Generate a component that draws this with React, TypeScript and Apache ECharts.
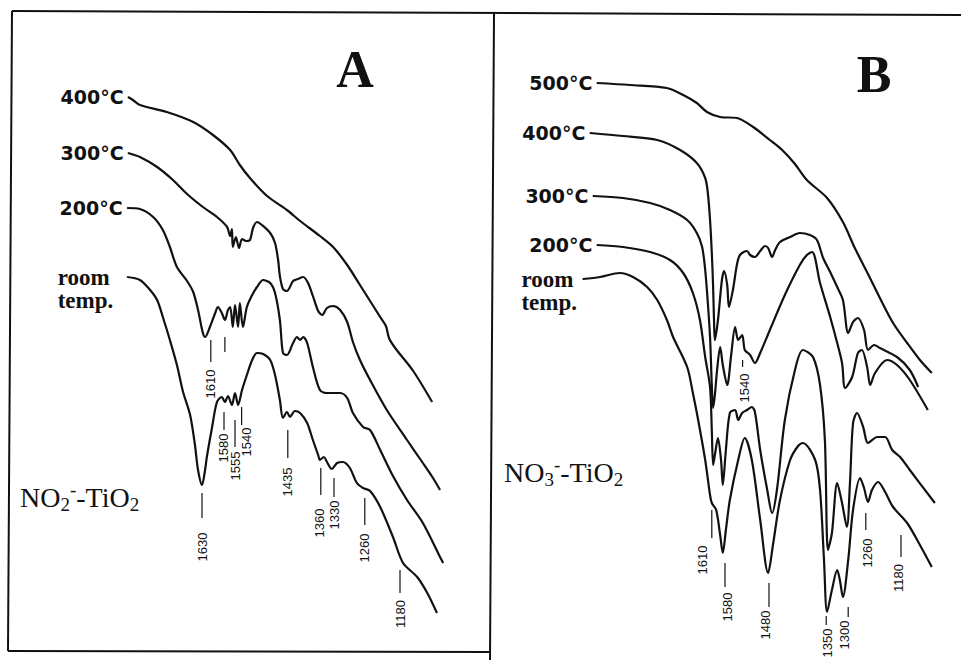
import React, { useEffect, useRef } from "react";
import * as echarts from "echarts";

type Pt = [number, number];
// x: wavenumber (cm-1, decreasing to the right); y: stacked transmittance offset (a.u., 0 = top of panel)

// ---------- Panel A : NO2- / TiO2 ----------
const specA400: Pt[] = [[1798,97],[1787,100],[1771,105],[1710,112],[1650,122],[1605,135],[1566,150],[1544,165],[1521,178],[1482,196],[1437,210],[1407,221],[1362,236],[1332,247],[1300,265],[1271,285],[1225,317],[1212,326],[1205,338],[1191,348],[1150,371],[1107,402]];
const specA300: Pt[] = [[1798,153],[1771,157],[1732,167],[1696,180],[1664,194],[1628,207],[1596,217],[1573,227],[1566,236],[1562,229],[1560,247],[1553,237],[1546,248],[1539,239],[1530,241],[1521,240],[1514,228],[1505,222],[1494,225],[1475,233],[1464,243],[1457,260],[1453,276],[1446,289],[1437,291],[1423,281],[1412,279],[1400,277],[1389,283],[1378,296],[1366,311],[1357,315],[1346,308],[1332,306],[1316,310],[1300,322],[1287,342],[1271,360],[1248,380],[1210,410],[1164,440],[1128,463],[1105,478],[1089,490]];
const specA200: Pt[] = [[1800,208],[1771,209],[1741,217],[1719,230],[1703,247],[1687,267],[1664,281],[1650,292],[1639,310],[1628,333],[1623,337],[1612,327],[1600,313],[1594,307],[1585,313],[1578,320],[1571,310],[1566,307],[1560,327],[1555,305],[1548,327],[1544,303],[1537,327],[1528,307],[1516,295],[1505,287],[1491,280],[1475,283],[1464,293],[1453,320],[1446,353],[1437,355],[1423,343],[1414,337],[1407,340],[1400,337],[1391,343],[1378,367],[1362,390],[1346,393],[1316,393],[1300,398],[1287,413],[1264,427],[1248,430],[1225,450],[1196,476],[1164,500],[1128,523],[1089,557],[1082,563]];
const specARoom: Pt[] = [[1800,277],[1771,280],[1748,290],[1732,300],[1719,317],[1703,340],[1687,365],[1673,392],[1657,415],[1646,445],[1639,470],[1630,485],[1623,470],[1619,457],[1607,427],[1596,402],[1585,397],[1578,402],[1571,396],[1562,405],[1555,393],[1548,405],[1539,390],[1528,375],[1516,360],[1505,353],[1491,354],[1475,360],[1464,375],[1453,400],[1446,418],[1437,412],[1430,417],[1419,411],[1407,413],[1391,423],[1378,440],[1366,455],[1362,460],[1353,457],[1346,462],[1335,469],[1323,463],[1310,462],[1294,468],[1278,483],[1264,488],[1248,491],[1225,507],[1196,537],[1173,563],[1141,577],[1118,593],[1096,613]];

// ---------- Panel B : NO3- / TiO2 ----------
const specB500: Pt[] = [[1871,83],[1796,85],[1712,88],[1675,95],[1644,103],[1621,112],[1591,117],[1553,118],[1516,127],[1478,140],[1450,150],[1421,164],[1394,180],[1348,198],[1312,222],[1285,248],[1255,274],[1228,298],[1198,323],[1166,343],[1137,360],[1110,373]];
const specB400: Pt[] = [[1887,133],[1812,136],[1734,140],[1682,150],[1644,163],[1625,178],[1619,193],[1614,220],[1610,253],[1607,287],[1605,320],[1603,340],[1596,320],[1587,280],[1582,271],[1575,285],[1571,307],[1562,290],[1553,265],[1546,255],[1530,251],[1523,255],[1512,257],[1500,251],[1489,246],[1482,248],[1473,257],[1466,250],[1455,242],[1432,237],[1410,233],[1387,235],[1371,240],[1357,258],[1341,272],[1325,287],[1312,300],[1300,333],[1289,322],[1278,318],[1264,330],[1255,350],[1241,345],[1228,348],[1189,357],[1160,370],[1141,387]];
const specB300: Pt[] = [[1880,196],[1812,198],[1750,203],[1705,210],[1666,220],[1644,233],[1632,247],[1625,270],[1619,303],[1614,337],[1610,385],[1607,408],[1603,395],[1598,370],[1591,347],[1585,365],[1575,385],[1566,355],[1557,327],[1550,340],[1541,335],[1535,350],[1523,355],[1512,363],[1500,353],[1478,330],[1444,295],[1410,265],[1394,255],[1382,252],[1364,283],[1341,317],[1325,343],[1314,363],[1307,388],[1291,377],[1278,353],[1269,350],[1257,367],[1250,385],[1239,373],[1212,360],[1189,365],[1160,380],[1119,410]];
const specB200: Pt[] = [[1871,245],[1812,247],[1750,252],[1705,260],[1675,273],[1653,293],[1637,320],[1625,357],[1614,387],[1610,430],[1607,465],[1603,455],[1596,438],[1589,460],[1585,485],[1578,450],[1569,413],[1557,410],[1550,420],[1541,413],[1530,410],[1519,407],[1512,412],[1500,450],[1484,490],[1473,513],[1462,490],[1444,420],[1421,370],[1403,350],[1380,357],[1364,385],[1353,440],[1346,550],[1337,533],[1325,483],[1314,503],[1303,527],[1296,483],[1289,423],[1280,413],[1266,427],[1255,443],[1234,437],[1216,437],[1200,450],[1182,457],[1160,470],[1103,503]];
const specBRoom: Pt[] = [[1903,279],[1864,277],[1819,273],[1789,277],[1757,287],[1734,300],[1712,320],[1698,337],[1666,367],[1653,393],[1641,420],[1625,460],[1614,495],[1610,503],[1600,510],[1591,535],[1585,553],[1578,530],[1569,500],[1550,460],[1535,438],[1519,460],[1500,520],[1482,573],[1471,545],[1455,500],[1432,460],[1414,446],[1403,443],[1375,460],[1364,490],[1355,560],[1348,612],[1337,590],[1325,570],[1319,580],[1312,597],[1300,560],[1289,510],[1273,478],[1264,488],[1255,502],[1246,490],[1232,482],[1216,492],[1198,507],[1166,523],[1137,545],[1110,567]];

const curveLabelsA = ["400°C", "300°C", "200°C", "room\ntemp."];
const curveLabelsB = ["500°C", "400°C", "300°C", "200°C", "room\ntemp."];

// band assignments: wavenumber, printed text, tick top / bottom level, text centre level (same a.u. as spectra)
// textWn: where the printed number sits when the print shifts it off its tick
const bandsA = [
  { wn: 1630, text: "1630", top: 493, bottom: 518, textAt: 547, textWn: 1630 },
  { wn: 1610, text: "1610", top: 340, bottom: 362, textAt: 384, textWn: 1610 },
  { wn: 1578, text: "", top: 337, bottom: 352, textAt: 0, textWn: 1578 },
  { wn: 1580, text: "1580", top: 412, bottom: 430, textAt: 448, textWn: 1582 },
  { wn: 1555, text: "1555", top: 420, bottom: 447, textAt: 466, textWn: 1555 },
  { wn: 1540, text: "1540", top: 407, bottom: 425, textAt: 442, textWn: 1530 },
  { wn: 1435, text: "1435", top: 430, bottom: 458, textAt: 482, textWn: 1435 },
  { wn: 1360, text: "1360", top: 468, bottom: 495, textAt: 523, textWn: 1363 },
  { wn: 1330, text: "1330", top: 478, bottom: 497, textAt: 515, textWn: 1330 },
  { wn: 1260, text: "1260", top: 498, bottom: 525, textAt: 548, textWn: 1260 },
  { wn: 1180, text: "1180", top: 570, bottom: 593, textAt: 614, textWn: 1180 },
];
const bandsB = [
  { wn: 1610, text: "1610", top: 510, bottom: 538, textAt: 560, textWn: 1632 },
  { wn: 1580, text: "1580", top: 563, bottom: 587, textAt: 607, textWn: 1575 },
  { wn: 1540, text: "1540", top: 360, bottom: 367, textAt: 388, textWn: 1535 },
  { wn: 1480, text: "1480", top: 583, bottom: 607, textAt: 625, textWn: 1488 },
  { wn: 1350, text: "1350", top: 616, bottom: 625, textAt: 643, textWn: 1348 },
  { wn: 1300, text: "1300", top: 607, bottom: 617, textAt: 635, textWn: 1309 },
  { wn: 1260, text: "1260", top: 513, bottom: 530, textAt: 553, textWn: 1256 },
  { wn: 1180, text: "1180", top: 535, bottom: 557, textAt: 578, textWn: 1186 },
];

const INK = "#111";

function spectrum(data: Pt[], label: string, axis: number) {
  const isRoom = label.indexOf("\n") >= 0;
  const roomLabel = {
    show: true,
    position: [axis === 0 ? -69 : -61, -11],
    color: INK,
    formatter: label,
    fontFamily: "Liberation Serif",
    fontWeight: "bold",
    fontSize: 23,
    lineHeight: 23,
    align: "left",
  };
  const tempLabel = {
    show: true,
    position: "left",
    distance: 4,
    color: INK,
    formatter: label,
    fontFamily: "DejaVu Sans",
    fontWeight: "bold",
    fontSize: 19,
  };
  return {
    type: "line",
    xAxisIndex: axis,
    yAxisIndex: axis,
    symbol: "none",
    smooth: 0.3,
    clip: false,
    silent: true,
    lineStyle: { color: INK, width: 2.2 },
    data: data.map((p, i) =>
      i === 0
        ? { value: p, symbol: "circle", symbolSize: 1, itemStyle: { color: INK }, label: isRoom ? roomLabel : tempLabel }
        : p
    ),
  };
}

function bandMarks(bands: typeof bandsA, axis: number) {
  return {
    type: "custom",
    xAxisIndex: axis,
    yAxisIndex: axis,
    clip: false,
    silent: true,
    encode: { x: 0, y: 1 },
    data: bands.map((b) => [b.wn, b.top, b.bottom, b.textAt]),
    renderItem: (params: any, api: any) => {
      const b = bands[params.dataIndex];
      const p1 = api.coord([b.wn, b.top]);
      const p2 = api.coord([b.wn, b.bottom]);
      const children: any[] = [
        { type: "line", shape: { x1: p1[0], y1: p1[1], x2: p2[0], y2: p2[1] }, style: { stroke: INK, lineWidth: 1.2 } },
      ];
      if (b.text) {
        const pt = api.coord([b.textWn, b.textAt]);
        children.push({
          type: "text",
          x: pt[0],
          y: pt[1],
          rotation: Math.PI / 2,
          style: { text: b.text, fontSize: 13, fontFamily: "Liberation Sans", fill: INK, align: "center", verticalAlign: "middle" },
        });
      }
      return { type: "group", children };
    },
  };
}

const formulaRich = {
  m: { fontFamily: "Liberation Serif", fontSize: 28, lineHeight: 34, fill: INK, color: INK },
  s: { fontFamily: "Liberation Serif", fontSize: 19, lineHeight: 17, verticalAlign: "bottom", fill: INK, color: INK },
  p: { fontFamily: "Liberation Serif", fontSize: 19, lineHeight: 19, verticalAlign: "top", fill: INK, color: INK },
};

const option: any = {
  animation: false,
  backgroundColor: "#ffffff",
  grid: [
    { left: 39.2, width: 440, top: 0, height: 660, outerBoundsMode: "none" },
    { left: 562.2, width: 396, top: 0, height: 660, outerBoundsMode: "none" },
  ],
  xAxis: [
    { type: "value", gridIndex: 0, min: 1000, max: 2000, inverse: true, show: false },
    { type: "value", gridIndex: 1, min: 1050, max: 1950, inverse: true, show: false },
  ],
  yAxis: [
    { type: "value", gridIndex: 0, min: 0, max: 660, inverse: true, show: false },
    { type: "value", gridIndex: 1, min: 0, max: 660, inverse: true, show: false },
  ],
  series: [
    spectrum(specA400, curveLabelsA[0], 0),
    spectrum(specA300, curveLabelsA[1], 0),
    spectrum(specA200, curveLabelsA[2], 0),
    spectrum(specARoom, curveLabelsA[3], 0),
    spectrum(specB500, curveLabelsB[0], 1),
    spectrum(specB400, curveLabelsB[1], 1),
    spectrum(specB300, curveLabelsB[2], 1),
    spectrum(specB200, curveLabelsB[3], 1),
    spectrum(specBRoom, curveLabelsB[4], 1),
    bandMarks(bandsA, 0),
    bandMarks(bandsB, 1),
  ],
  graphic: [
    { type: "polyline", silent: true, shape: { points: [[12, 11], [961, 15]] }, style: { stroke: INK, lineWidth: 2, fill: null } },
    { type: "polyline", silent: true, shape: { points: [[12, 11], [8, 651]] }, style: { stroke: INK, lineWidth: 2, fill: null } },
    { type: "polyline", silent: true, shape: { points: [[8, 651], [490, 652]] }, style: { stroke: INK, lineWidth: 2, fill: null } },
    { type: "polyline", silent: true, shape: { points: [[494, 13], [490, 660]] }, style: { stroke: INK, lineWidth: 2, fill: null } },
    { type: "text", x: 355, y: 69, style: { text: "A", fontFamily: "Liberation Serif", fontWeight: "bold", fontSize: 52, fill: INK, align: "center", verticalAlign: "middle" } },
    { type: "text", x: 874, y: 74, style: { text: "B", fontFamily: "Liberation Serif", fontWeight: "bold", fontSize: 52, fill: INK, align: "center", verticalAlign: "middle" } },
    { type: "text", x: 20, y: 497, style: { text: "{m|NO}{s|2}{p|-}{m|-TiO}{s|2}", rich: formulaRich, align: "left", verticalAlign: "middle" } },
    { type: "text", x: 504, y: 472, style: { text: "{m|NO}{s|3}{p|-}{m|-TiO}{s|2}", rich: formulaRich, align: "left", verticalAlign: "middle" } },
  ],
};

export default function App() {
  const ref = useRef<HTMLDivElement>(null);
  useEffect(() => {
    const chart = echarts.init(ref.current as HTMLDivElement, null, { renderer: "svg" });
    chart.setOption(option);
    return () => chart.dispose();
  }, []);
  return (
    <div
      ref={ref}
      style={{ position: "absolute", left: 0, top: 0, width: 961, height: 660, background: "#fff" }}
    />
  );
}
